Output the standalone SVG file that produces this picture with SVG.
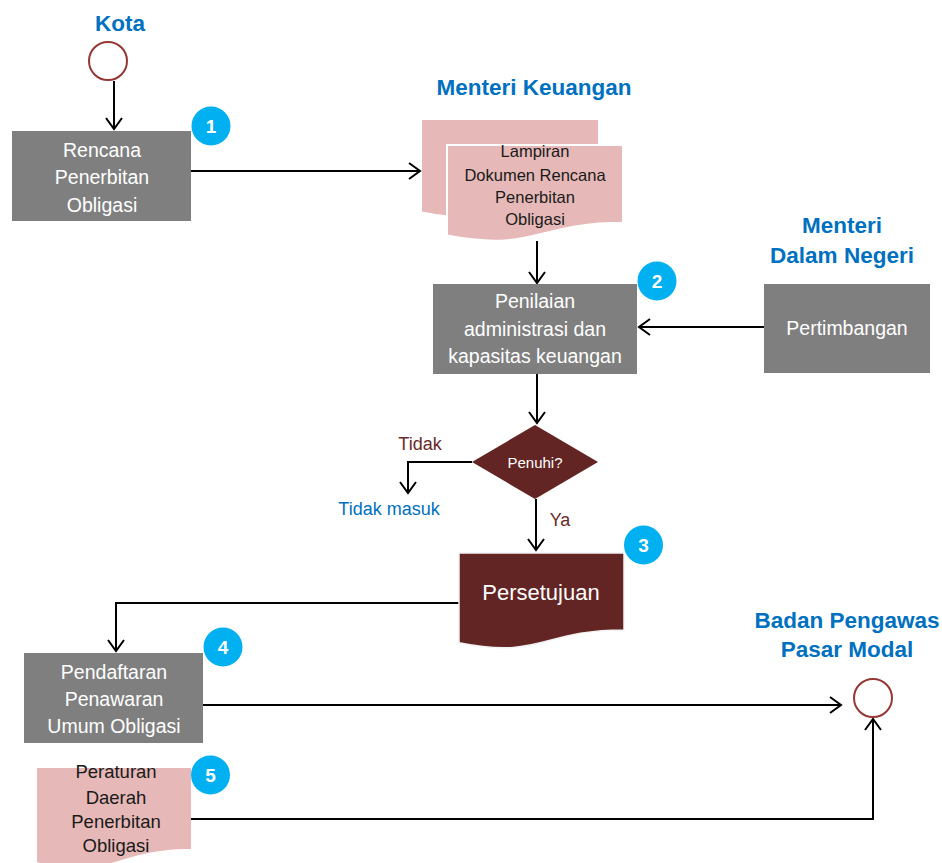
<svg xmlns="http://www.w3.org/2000/svg" width="942" height="863" viewBox="0 0 942 863">
<style>
text{font-family:"Liberation Sans",Arial,sans-serif;text-anchor:middle}
.lane{font-weight:bold;font-size:22.5px;fill:#0070C0}
.box{fill:#7F7F7F}
.bt{fill:#FFFFFF;font-size:19.5px}
.doc{fill:#E6B9B8}
.dt{fill:#1A1A1A;font-size:16.5px}
.badge{fill:#00B0F0}
.bn{fill:#FFFFFF;font-weight:bold;font-size:19px}
.term{fill:#FFFFFF;stroke:#953735;stroke-width:2}
.conn{fill:none;stroke:#000000;stroke-width:2}
.lbl{font-size:18px}
</style>
<defs>
<marker id="arr" markerUnits="userSpaceOnUse" markerWidth="16" markerHeight="20" refX="12" refY="9" orient="auto">
<path d="M1,1 L12,9 L1,17" fill="none" stroke="#000000" stroke-width="2"/>
</marker>
</defs>

<g id="lane-labels">
<text class="lane" x="120" y="31">Kota</text>
<text class="lane" x="534" y="95">Menteri Keuangan</text>
<text class="lane" x="842" y="233">Menteri</text>
<text class="lane" x="842" y="263">Dalam Negeri</text>
<text class="lane" x="847" y="628">Badan Pengawas</text>
<text class="lane" x="847" y="657">Pasar Modal</text>
</g>

<g id="connectors">
<path class="conn" d="M114,81 V129" marker-end="url(#arr)"/>
<path class="conn" d="M191,171 H420" marker-end="url(#arr)"/>
<path class="conn" d="M537,241 V283" marker-end="url(#arr)"/>
<path class="conn" d="M764,327 H639" marker-end="url(#arr)"/>
<path class="conn" d="M537,374 V423" marker-end="url(#arr)"/>
<path class="conn" d="M472,462 H408 V493" marker-end="url(#arr)"/>
<path class="conn" d="M536,499 V550" marker-end="url(#arr)"/>
<path class="conn" d="M459,603 H116 V651" marker-end="url(#arr)"/>
<path class="conn" d="M203,705 H841" marker-end="url(#arr)"/>
<path class="conn" d="M191,819 H873 V719" marker-end="url(#arr)"/>
</g>

<g id="start-kota">
<circle class="term" cx="108" cy="61" r="19"/>
</g>

<g id="n1-rencana">
<rect class="box" x="12" y="131" width="179" height="90"/>
<text class="bt" x="102" y="157">Rencana</text>
<text class="bt" x="102" y="184">Penerbitan</text>
<text class="bt" x="102" y="212">Obligasi</text>
</g>
<g id="badge1"><circle class="badge" cx="211" cy="126" r="19.5"/><text class="bn" x="211" y="133">1</text></g>

<g id="n-lampiran">
<path class="doc" d="M422,120 H598 V198.6 C510,198.6 510,228.6 422,211.5 Z"/>
<path class="doc" stroke="#FFFFFF" stroke-width="2" d="M447,145 H623 V222.8 C535,222.8 535,252.5 447,235.6 Z"/>
<text class="dt" x="535" y="157">Lampiran</text>
<text class="dt" x="535" y="181">Dokumen Rencana</text>
<text class="dt" x="535" y="203">Penerbitan</text>
<text class="dt" x="535" y="225">Obligasi</text>
</g>

<g id="n2-penilaian">
<rect class="box" x="433" y="284" width="204" height="90"/>
<text class="bt" x="535" y="308">Penilaian</text>
<text class="bt" x="535" y="336">administrasi dan</text>
<text class="bt" x="535" y="363">kapasitas keuangan</text>
</g>
<g id="badge2"><circle class="badge" cx="657" cy="281" r="19.5"/><text class="bn" x="657" y="288">2</text></g>

<g id="n-pertimbangan">
<rect class="box" x="764" y="284" width="166" height="89"/>
<text class="bt" x="847" y="335">Pertimbangan</text>
</g>

<g id="n-penuhi">
<polygon fill="#632523" points="535,425 598,462 535,499 472,462"/>
<text fill="#FFFFFF" style="font-size:15px" x="535" y="468">Penuhi?</text>
</g>

<g id="branch-labels">
<text class="lbl" fill="#6B2A2A" x="420" y="450">Tidak</text>
<text class="lbl" fill="#0070C0" x="389" y="515">Tidak masuk</text>
<text class="lbl" fill="#6B2A2A" x="560" y="526">Ya</text>
</g>

<g id="n3-persetujuan">
<path fill="#632523" stroke="#F2F2F2" stroke-width="1.5" d="M459,553 H624 V630 C541.5,630 541.5,659.4 459,642.7 Z"/>
<text fill="#FFFFFF" style="font-size:22px" x="541" y="600">Persetujuan</text>
</g>
<g id="badge3"><circle class="badge" cx="643.5" cy="545" r="19.5"/><text class="bn" x="643.5" y="552">3</text></g>

<g id="n4-pendaftaran">
<rect class="box" x="24" y="653" width="179" height="90"/>
<text class="bt" x="114" y="679">Pendaftaran</text>
<text class="bt" x="114" y="706">Penawaran</text>
<text class="bt" x="114" y="733">Umum Obligasi</text>
</g>
<g id="badge4"><circle class="badge" cx="223" cy="647" r="19.5"/><text class="bn" x="223" y="654">4</text></g>

<g id="n5-peraturan">
<path class="doc" d="M37,768 H191 V849 C114,849 114,879.9 37,862.3 Z"/>
<text class="dt" style="font-size:18.5px" x="116" y="778">Peraturan</text>
<text class="dt" style="font-size:18.5px" x="116" y="804">Daerah</text>
<text class="dt" style="font-size:18.5px" x="116" y="828">Penerbitan</text>
<text class="dt" style="font-size:18.5px" x="116" y="852">Obligasi</text>
</g>
<g id="badge5"><circle class="badge" cx="210.5" cy="775" r="19.5"/><text class="bn" x="210.5" y="782">5</text></g>

<g id="end-bapepam">
<circle class="term" cx="873" cy="698" r="19"/>
</g>
</svg>
